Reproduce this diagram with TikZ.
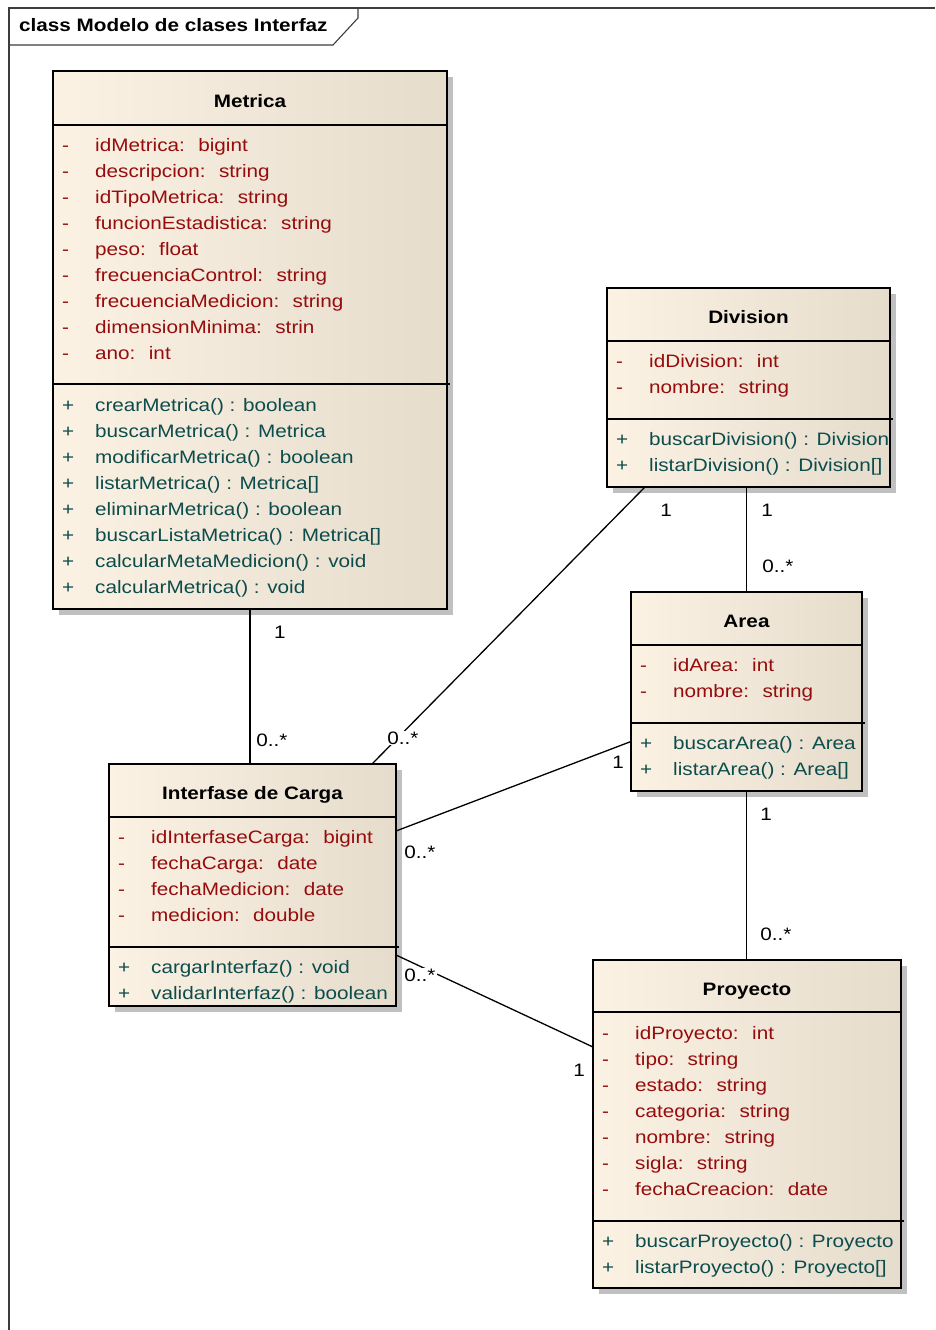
\documentclass[tikz,border=0pt]{standalone}
\usepackage{fontspec}
\setmainfont{Liberation Sans}
\usetikzlibrary{calc,backgrounds}

\definecolor{attrred}{RGB}{150,12,12}
\definecolor{opteal}{RGB}{12,76,76}
\definecolor{clsleft}{RGB}{251,242,228}
\definecolor{clsright}{RGB}{229,220,204}
\definecolor{shadowgray}{RGB}{192,192,192}
\definecolor{framegray}{RGB}{60,60,60}

% slightly widened glyphs, as in the modelling tool's rendering
\newcommand{\wide}[1]{\scalebox{1.15}[1]{#1}}

% one compartment of members: node, baseline offset of first line, sign, colour, list
\newcommand{\members}[6]{%
  \foreach \txt [count=\k from 0] in {#5}{%
    \node[member, text=#4] (#1-#6s\k) at ($(#1.north west)+(9,{#2+26*\k})$) {\wide{#3}};
    \node[member, text=#4] (#1-#6\k) at ($(#1.north west)+(42,{#2+26*\k})$) {\wide{\txt}};
  }%
}

\tikzset{
  cls/.style={rectangle, draw=black, line width=1.6pt, left color=clsleft,
    right color=clsright, anchor=north west, inner sep=0pt, outer sep=0pt},
  clsname/.style={font=\fontsize{18}{20}\selectfont\bfseries, inner sep=0pt, anchor=base},
  member/.style={font=\fontsize{18}{20}\selectfont, inner sep=0pt, anchor=base west},
  mult/.style={font=\fontsize{18}{20}\selectfont, inner sep=1pt, text=black},
  multw/.style={mult, fill=white},
  divider/.style={line width=1.3pt},
  assoc/.style={line width=1.3pt, black},
}

\begin{document}
\begin{tikzpicture}[x=1pt, y=-1pt]
\useasboundingbox (0,0) rectangle (935,1330);

% diagram frame
\draw[framegray, line width=1.1pt] (9,1330) -- (9,8) -- (935,8);
\draw[framegray, line width=1.1pt] (9,45) -- (333,45) -- (358,18) -- (358,8);
\node[anchor=base west, inner sep=0pt, font=\fontsize{18}{20}\selectfont\bfseries]
  (frametitle) at (19,31.5) {\wide{class Modelo de clases Interfaz}};

% class boxes
\node[cls, minimum width=394pt, minimum height=538pt] (metrica) at (53,71) {};
\node[cls, minimum width=283pt, minimum height=199pt] (div) at (607,288) {};
\node[cls, minimum width=231pt, minimum height=199pt] (area) at (631,592) {};
\node[cls, minimum width=287pt, minimum height=242pt] (inter) at (109,764) {};
\node[cls, minimum width=308pt, minimum height=328pt] (proy) at (593,960) {};

% drop shadows
\begin{scope}[on background layer]
  \foreach \c in {metrica,div,area,inter,proy}
    \fill[shadowgray] ($(\c.north west)+(6,6)$) rectangle ($(\c.south east)+(6,6)$);
\end{scope}

% Metrica
\node[clsname] (metrica-t) at ($(metrica.north)+(0,36.5)$) {\wide{Metrica}};
\draw[divider] ($(metrica.north west)+(0,54)$) -- ($(metrica.north east)+(0,54)$);
\draw[divider] ($(metrica.north west)+(0,313)$) -- ($(metrica.north east)+(3,313)$);
\members{metrica}{80}{-}{attrred}{{idMetrica: \ bigint},{descripcion: \ string},
  {idTipoMetrica: \ string},{funcionEstadistica: \ string},{peso: \ float},
  {frecuenciaControl: \ string},{frecuenciaMedicion: \ string},
  {dimensionMinima: \ strin},{ano: \ int}}{a}
\members{metrica}{340}{+}{opteal}{{crearMetrica() : boolean},{buscarMetrica() : Metrica},
  {modificarMetrica() : boolean},{listarMetrica() : Metrica[]},
  {eliminarMetrica() : boolean},{buscarListaMetrica() : Metrica[]},
  {calcularMetaMedicion() : void},{calcularMetrica() : void}}{o}

% Division
\node[clsname] (div-t) at ($(div.north)+(0,35.5)$) {\wide{Division}};
\draw[divider] ($(div.north west)+(0,53)$) -- ($(div.north east)+(0,53)$);
\draw[divider] ($(div.north west)+(0,131)$) -- ($(div.north east)+(3,131)$);
\members{div}{79}{-}{attrred}{{idDivision: \ int},{nombre: \ string}}{a}
\members{div}{157}{+}{opteal}{{buscarDivision() : Division},{listarDivision() : Division[]}}{o}

% Area
\node[clsname] (area-t) at ($(area.north)+(0,35.5)$) {\wide{Area}};
\draw[divider] ($(area.north west)+(0,53)$) -- ($(area.north east)+(0,53)$);
\draw[divider] ($(area.north west)+(0,131)$) -- ($(area.north east)+(3,131)$);
\members{area}{79}{-}{attrred}{{idArea: \ int},{nombre: \ string}}{a}
\members{area}{157}{+}{opteal}{{buscarArea() : Area},{listarArea() : Area[]}}{o}

% Interfase de Carga
\node[clsname] (inter-t) at ($(inter.north)+(0,35.5)$) {\wide{Interfase de Carga}};
\draw[divider] ($(inter.north west)+(0,53)$) -- ($(inter.north east)+(0,53)$);
\draw[divider] ($(inter.north west)+(0,183)$) -- ($(inter.north east)+(3,183)$);
\members{inter}{79}{-}{attrred}{{idInterfaseCarga: \ bigint},{fechaCarga: \ date},
  {fechaMedicion: \ date},{medicion: \ double}}{a}
\members{inter}{209}{+}{opteal}{{cargarInterfaz() : void},{validarInterfaz() : boolean}}{o}

% Proyecto
\node[clsname] (proy-t) at ($(proy.north)+(0,35.5)$) {\wide{Proyecto}};
\draw[divider] ($(proy.north west)+(0,52)$) -- ($(proy.north east)+(0,52)$);
\draw[divider] ($(proy.north west)+(0,261)$) -- ($(proy.north east)+(3,261)$);
\members{proy}{79}{-}{attrred}{{idProyecto: \ int},{tipo: \ string},{estado: \ string},
  {categoria: \ string},{nombre: \ string},{sigla: \ string},{fechaCreacion: \ date}}{a}
\members{proy}{287}{+}{opteal}{{buscarProyecto() : Proyecto},{listarProyecto() : Proyecto[]}}{o}

% associations
\draw[assoc] (metrica.south) -- (metrica.south |- inter.north);
\draw[assoc] ($(div.south west)+(38,0)$) -- ($(inter.north east)+(-24,0)$);
\draw[assoc] (area.north |- div.south) -- (area.north);
\draw[assoc] ($(area.west)+(0,50)$) -- ($(inter.east)+(0,-54)$);
\draw[assoc] (area.south) -- (area.south |- proy.north);
\draw[assoc] ($(inter.east)+(0,70)$) -- ($(proy.west)+(0,-77)$);

% multiplicities
\node[mult]  (m-metrica)  at (280,632)  {\wide{1}};
\node[mult]  (m-inter1)   at (272,740)  {\wide{0..*}};
\node[mult]  (m-div1)     at (666,510)  {\wide{1}};
\node[multw] (m-inter2)   at (403,738)  {\wide{0..*}};
\node[mult]  (m-div2)     at (767,510)  {\wide{1}};
\node[mult]  (m-area1)    at (778,566)  {\wide{0..*}};
\node[mult]  (m-area2)    at (618,762)  {\wide{1}};
\node[mult]  (m-inter3)   at (420,852)  {\wide{0..*}};
\node[mult]  (m-area3)    at (766,814)  {\wide{1}};
\node[mult]  (m-proy1)    at (776,934)  {\wide{0..*}};
\node[multw] (m-inter4)   at (420,975)  {\wide{0..*}};
\node[mult]  (m-proy2)    at (579,1070) {\wide{1}};
\end{tikzpicture}
\end{document}
